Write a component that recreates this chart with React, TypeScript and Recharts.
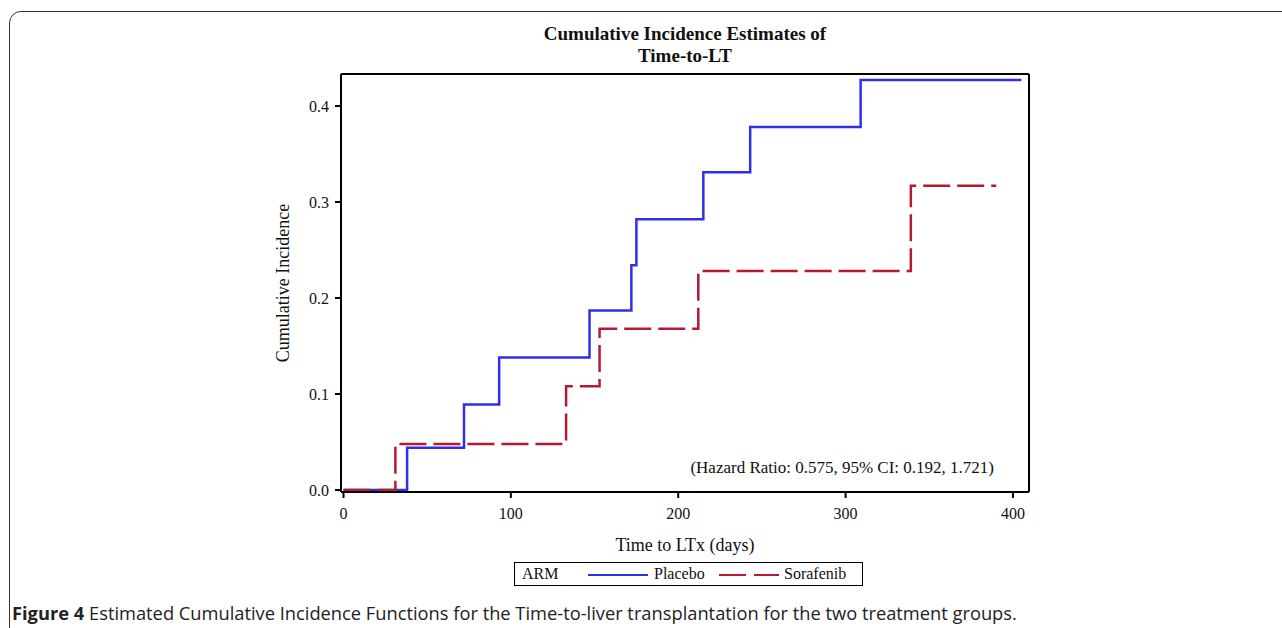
import * as React from 'react';
import { LineChart, Line, XAxis, YAxis, ReferenceLine } from 'recharts';

// step estimates (days, cumulative incidence)
const placeboDays = [0, 38, 72, 93, 147, 172, 175, 215, 243, 309, 405];
const placeboCI = [0, 0.044, 0.089, 0.138, 0.187, 0.234, 0.282, 0.331, 0.378, 0.427, 0.427];
const sorafenibDays = [0, 31, 133, 153, 212, 339, 390];
const sorafenibCI = [0, 0.048, 0.108, 0.168, 0.228, 0.317, 0.317];

const xTicks = [0, 100, 200, 300, 400];
const yTicks = [0, 0.1, 0.2, 0.3, 0.4];
const armNames = ['Placebo', 'Sorafenib'];

const placeboData = placeboDays.map((t, i) => ({ t, ci: placeboCI[i] }));
const sorafenibData = sorafenibDays.map((t, i) => ({ t, ci: sorafenibCI[i] }));

const BLUE = '#2f2fe6';
const RED = '#b51a30';
const SERIF = "'Liberation Serif', 'Times New Roman', serif";
const xDomain: [number, number] = [-1.5, 409.6];
const yDomain: [number, number] = [-0.0021, 0.4333];

const tickStyle = { fill: '#111', fontSize: 16, fontFamily: SERIF };
const frame = { stroke: '#000', strokeWidth: 2 };

export default function App() {
  return (
    <div
      style={{
        position: 'absolute',
        left: 0,
        top: 0,
        width: 1282,
        height: 628,
        overflow: 'hidden',
        background: '#fff',
      }}
    >
      {/* figure panel border */}
      <div
        style={{
          position: 'absolute',
          left: 9,
          top: 11,
          width: 1320,
          height: 700,
          border: '1.5px solid #333',
          borderRadius: 12,
        }}
      />

      <div
        style={{
          position: 'absolute',
          left: 341,
          width: 688,
          top: 23,
          textAlign: 'center',
          fontFamily: SERIF,
          fontWeight: 'bold',
          fontSize: 19,
          lineHeight: '22px',
          color: '#111',
        }}
      >
        Cumulative Incidence Estimates of
        <br />
        Time-to-LT
      </div>

      <div style={{ position: 'absolute', left: 0, top: 0 }}>
        <LineChart
          width={1282}
          height={628}
          margin={{ top: 74, right: 253, left: 281, bottom: 76 }}
        >
          <XAxis
            type="number"
            dataKey="t"
            domain={xDomain}
            ticks={xTicks}
            allowDataOverflow
            height={60}
            tick={tickStyle}
            tickSize={6}
            tickMargin={10}
            axisLine={frame}
            tickLine={frame}
            label={{
              value: 'Time to LTx (days)',
              position: 'insideBottom',
              offset: 1,
              style: { fill: '#111', fontSize: 18, fontFamily: SERIF },
            }}
          />
          <YAxis
            type="number"
            domain={yDomain}
            ticks={yTicks}
            allowDataOverflow
            width={60}
            tick={tickStyle}
            tickSize={6}
            tickMargin={6}
            tickFormatter={(v: number) => v.toFixed(1)}
            axisLine={frame}
            tickLine={frame}
            label={{
              value: 'Cumulative Incidence',
              angle: -90,
              position: 'insideLeft',
              offset: 2,
              style: { fill: '#111', fontSize: 18, fontFamily: SERIF, textAnchor: 'middle' },
            }}
          />
          {/* closing the plot frame on top and right */}
          <ReferenceLine y={yDomain[1]} stroke="#000" strokeWidth={2} />
          <ReferenceLine x={xDomain[1]} stroke="#000" strokeWidth={2} />
          <Line
            data={placeboData}
            dataKey="ci"
            name={armNames[0]}
            type="stepAfter"
            stroke={BLUE}
            strokeWidth={2.5}
            dot={false}
            isAnimationActive={false}
          />
          <Line
            data={sorafenibData}
            dataKey="ci"
            name={armNames[1]}
            type="stepAfter"
            stroke={RED}
            strokeWidth={2.5}
            strokeDasharray="27 7"
            dot={false}
            isAnimationActive={false}
          />
        </LineChart>
      </div>

      <div
        style={{
          position: 'absolute',
          right: 1282 - 994,
          top: 458,
          fontFamily: SERIF,
          fontSize: 17,
          color: '#111',
          whiteSpace: 'nowrap',
        }}
      >
        (Hazard Ratio: 0.575, 95% CI: 0.192, 1.721)
      </div>

      {/* legend */}
      <div
        style={{
          position: 'absolute',
          left: 514,
          top: 562,
          width: 347,
          height: 22,
          border: '1.5px solid #000',
          fontFamily: SERIF,
          fontSize: 16,
          color: '#111',
        }}
      >
        <span style={{ position: 'absolute', left: 7, top: 2 }}>ARM</span>
        <svg style={{ position: 'absolute', left: 72, top: 0 }} width={62} height={22}>
          <line x1={1} y1={12} x2={61} y2={12} stroke={BLUE} strokeWidth={2} />
        </svg>
        <span style={{ position: 'absolute', left: 139, top: 2 }}>{armNames[0]}</span>
        <svg style={{ position: 'absolute', left: 203, top: 0 }} width={62} height={22}>
          <line
            x1={1}
            y1={12}
            x2={61}
            y2={12}
            stroke={RED}
            strokeWidth={2}
            strokeDasharray="27 8"
          />
        </svg>
        <span style={{ position: 'absolute', left: 269, top: 2 }}>{armNames[1]}</span>
      </div>

      <div
        style={{
          position: 'absolute',
          left: 12,
          top: 600,
          fontFamily: "'Open Sans', sans-serif",
          fontSize: 18.3,
          color: '#222',
          whiteSpace: 'nowrap',
        }}
      >
        <b>Figure 4</b> Estimated Cumulative Incidence Functions for the Time-to-liver
        transplantation for the two treatment groups.
      </div>
    </div>
  );
}
